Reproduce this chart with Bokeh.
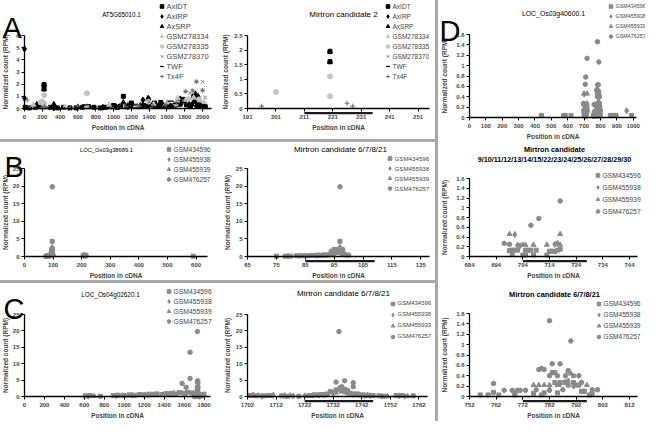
from bokeh.plotting import figure
from bokeh.models import (Range1d, FixedTicker, CustomJSTickFormatter, Legend, LegendItem,
                          Label, BoxAnnotation, ColumnDataSource, Div)
from bokeh.layouts import row, column
from bokeh.embed import file_html
from bokeh.resources import INLINE

# ---------------- data ----------------
# Panel A : AT5G65010.1 (also shown zoomed as Mirtron candidate 2)
a_series = ["AxIDT", "AxIRP", "AxSRP", "GSM278334", "GSM278335", "GSM278370", "TWF", "Tx4F"]
a_axidt_x = [8, 55, 120, 165, 220, 220, 290, 370, 440, 510, 580, 650, 720, 780, 850, 910, 960, 1000, 1040, 1080,
             1110, 1150, 1200, 1250, 1290, 1340, 1380, 1420, 1460, 1500, 1530, 1570, 1610, 1650, 1690, 1730, 1780,
             1820, 1860, 1900, 1940, 1970, 2000, 2030]
a_axidt_y = [0.1, 0.05, 0.1, 0.15, 1.95, 1.6, 0.1, 0.05, 0.1, 0.05, 0.05, 0.1, 0.15, 0.1, 0.05, 0.1, 0.15, 0.25, 0.1, 0.2,
             1.0, 0.15, 0.45, 0.2, 0.15, 0.25, 0.2, 0.3, 0.45, 0.2, 0.5, 0.25, 0.15, 0.2, 0.3, 0.35, 0.75,
             0.3, 0.2, 1.0, 0.6, 0.25, 0.3, 0.15]
a_axirp_x = [0, 0, 330, 600, 880, 1020, 1160, 1300, 1330, 1390, 1480, 1560, 1640, 1700, 1760, 1840, 1880, 1930, 1990]
a_axirp_y = [4.9, 0.85, 0.05, 0.1, 0.1, 0.2, 0.15, 0.25, 0.7, 0.85, 0.3, 0.25, 0.2, 0.3, 0.4, 0.45, 0.3, 0.2, 0.25]
a_axsrp_x = [140, 220, 220, 330, 1000, 1110, 1210, 1330, 1390, 1460, 1540, 1620, 1750, 1820, 1900, 1920, 1950]
a_axsrp_y = [0.35, 1.95, 1.6, 0.35, 0.2, 0.5, 0.2, 0.3, 0.8, 0.15, 0.2, 0.3, 0.8, 0.4, 0.55, 1.2, 1.0]
a_gsm278334_x = [100, 450, 700, 950, 1250, 1450, 1600, 1720, 1800, 1850, 1900, 1980, 2020]
a_gsm278334_y = [0.3, 0.1, 0.2, 0.3, 0.25, 0.35, 0.5, 0.85, 0.6, 0.8, 0.9, 0.6, 0.5]
a_gsm278335_x = [180, 201, 220, 220, 700, 1390, 1700, 1830, 1960]
a_gsm278335_y = [0.5, 0.57, 1.1, 0.42, 1.25, 0.55, 0.4, 0.75, 0.75]
a_gsm278370_x = [60, 260, 500, 820, 1060, 1280, 1400, 1560, 1680, 1780, 1810, 1860, 1890, 1930, 2000, 2000, 2030]
a_gsm278370_y = [0.1, 0.1, 0.05, 0.15, 0.2, 0.3, 0.55, 0.3, 0.5, 0.6, 1.4, 1.25, 1.45, 2.2, 2.2, 1.5, 0.9]
a_twf_x = [150, 420, 680, 760, 1060, 1180, 1230, 1350, 1420, 1520, 1640, 1700, 1790, 1870, 1950, 2010]
a_twf_y = [0.1, 0.05, 0.3, 0.1, 0.2, 0.45, 0.3, 0.3, 0.2, 0.35, 0.6, 0.4, 0.5, 0.3, 0.45, 0.3]
a_tx4f_x = [30, 196, 226, 228, 600, 980, 1140, 1290, 1440, 1590, 1710, 1810, 1890, 1930, 2000]
a_tx4f_y = [0.7, 0.08, 0.18, 0.08, 0.2, 0.1, 0.15, 0.2, 0.25, 0.3, 0.5, 1.4, 1.45, 2.2, 1.5]

# rice libraries used in B, C, D
gsm_series = ["GSM434596", "GSM455938", "GSM455939", "GSM476257"]

# Panel B : LOC_Os03g38689.1
b_434596_x = [75, 78, 80, 82, 84, 86, 88, 90, 92, 94, 95, 96, 97, 98, 205, 210, 215, 590]
b_434596_y = [0.1, 0.1, 0.1, 0.2, 0.2, 0.2, 0.3, 0.3, 0.4, 1.5, 2.0, 2.0, 4.3, 0.8, 0.3, 0.4, 0.3, 0.1]
b_455938_x = [79, 83, 89, 91, 93, 95, 96, 97, 99, 207, 212]
b_455938_y = [0.1, 0.2, 0.3, 0.4, 0.5, 1.0, 1.5, 2.6, 0.5, 0.3, 0.2]
b_455939_x = [85, 90, 94, 96, 97, 98, 209]
b_455939_y = [0.2, 0.3, 0.5, 1.0, 1.2, 0.7, 0.2]
b_476257_x = [87, 92, 95, 97, 98, 100, 214]
b_476257_y = [0.3, 0.4, 0.8, 19.8, 2.0, 0.4, 0.2]

# Panel C : LOC_Os04g02620.1
c_434596_x = [610, 660, 760, 890, 940, 1000, 1050, 1110, 1160, 1220, 1270, 1330, 1380, 1430, 1480, 1520, 1560,
              1600, 1640, 1680, 1703, 1705, 1708, 1710, 1714, 1716, 1720, 1724, 1726, 1728, 1730, 1731, 1732,
              1733, 1735, 1736, 1736, 1737, 1738, 1740, 1742, 1744, 1746, 1748, 1750, 1754, 1756, 1760, 1780, 1800]
c_434596_y = [0.2, 0.3, 0.1, 0.3, 0.4, 0.3, 0.5, 0.4, 0.6, 0.5, 0.7, 0.8, 0.6, 0.9, 1.0, 0.8, 1.2,
              1.0, 1.3, 1.1, 0.3, 0.2, 0.2, 0.3, 0.2, 0.1, 0.1, 0.3, 0.5, 0.6, 0.8, 1.5, 1.2,
              2.0, 2.0, 2.2, 1.5, 1.8, 1.0, 0.8, 0.5, 0.4, 0.3, 0.2, 0.1, 0.3, 0.3, 0.2, 0.5, 0.7]
c_455938_x = [640, 920, 1080, 1240, 1400, 1500, 1620, 1704, 1707, 1711, 1715, 1718, 1722, 1725, 1727, 1729, 1732,
              1734, 1737, 1739, 1741, 1743, 1745, 1749, 1755, 1757, 1790]
c_455938_y = [0.1, 0.2, 0.4, 0.6, 0.7, 0.9, 1.0, 0.5, 0.1, 0.4, 0.3, 0.2, 0.2, 0.4, 0.4, 0.5, 1.0,
              2.5, 1.2, 0.6, 0.6, 0.3, 0.2, 0.1, 0.2, 0.1, 0.4]
c_455939_x = [700, 980, 1140, 1300, 1460, 1540, 1706, 1709, 1717, 1723, 1728, 1733, 1735, 1737, 1740, 1744, 1751,
              1758, 1770]
c_455939_y = [0.1, 0.3, 0.5, 0.6, 0.8, 1.1, 0.3, 0.2, 0.3, 0.2, 0.4, 1.2, 1.5, 1.0, 0.5, 0.4, 0.1, 0.1, 0.3]
c_476257_x = [1200, 1580, 1620, 1660, 1660, 1733, 1734, 1735, 1736, 1739, 1739]
c_476257_y = [0.5, 4.0, 2.8, 13.5, 5.5, 4.4, 19.8, 3.0, 4.8, 4.2, 3.0]

# Panel D : LOC_Os03g40600.1
d_434596_x = [440, 575, 585, 620, 699, 700, 700, 701, 702, 704, 705, 705, 706, 707, 708, 709, 713, 714, 715, 716,
              717, 718, 756, 759, 761, 763, 769, 769, 776, 779, 780, 783, 784, 784, 785, 786, 788, 788, 789, 791,
              792, 793, 794, 795, 795, 797, 798, 860, 870, 885, 895, 990]
d_434596_y = [0.04, 0.04, 0.04, 0.04, 0.12, 0.13, 0.05, 0.13, 0.13, 0.03, 0.03, 0.13, 0.13, 0.13, 0.03, 0.13, 0.03,
              0.11, 0.11, 0.1, 0.13, 0.15, 0.03, 0.03, 0.08, 0.03, 0.03, 0.06, 0.06, 0.03, 0.07, 0.46, 0.46, 0.27,
              0.07, 0.27, 0.27, 0.28, 0.22, 0.27, 0.22, 0.22, 0.1, 0.1, 0.1, 0.03, 0.06, 0.04, 0.04, 0.04, 0.04, 0.04]
d_455938_x = [701, 702, 703, 716, 717, 782, 786, 789, 791, 960]
d_455938_y = [0.45, 0.23, 0.22, 0.25, 0.27, 0.13, 0.24, 0.3, 0.2, 0.13]
d_455939_x = [699, 704, 705, 708, 713, 718, 718, 776, 778, 780, 782, 785, 789, 790, 796]
d_455939_y = [0.46, 0.24, 0.24, 0.24, 0.24, 0.46, 0.24, 0.22, 0.22, 0.22, 0.22, 0.22, 0.48, 0.44, 0.22]
d_476257_x = [697, 699, 707, 710, 718, 761, 765, 768, 770, 771, 773, 777, 778, 779, 780, 782, 782, 782, 783, 785,
              786, 787, 788, 789, 790, 791, 793, 794, 798, 800]
d_476257_y = [0.27, 0.25, 0.64, 0.78, 1.14, 0.25, 0.12, 0.12, 0.12, 0.12, 0.12, 0.13, 0.52, 0.54, 0.52, 1.46, 0.4,
              0.12, 0.63, 0.4, 0.63, 0.13, 0.4, 0.5, 1.07, 0.4, 0.4, 0.27, 0.13, 0.13]

# axis ticks
a1_xticks = [0, 200, 400, 600, 800, 1000, 1200, 1400, 1600, 1800, 2000]
a1_yticks = [0, 1, 2, 3, 4, 5, 6]
a2_xticks = [191, 201, 211, 221, 231, 241, 251]
a2_yticks = [0, 0.5, 1, 1.5, 2, 2.5]
b1_xticks = [0, 100, 200, 300, 400, 500, 600]
b2_xticks = [65, 75, 85, 95, 105, 115, 125]
bc_yticks = [0, 5, 10, 15, 20, 25]
c1_xticks = [0, 200, 400, 600, 800, 1000, 1200, 1400, 1600, 1800]
c2_xticks = [1702, 1712, 1722, 1732, 1742, 1752, 1762]
d1_xticks = [0, 100, 200, 300, 400, 500, 600, 700, 800, 900, 1000]
d2_xticks = [684, 694, 704, 714, 724, 734, 744]
d3_xticks = [752, 762, 772, 782, 792, 802, 812]
d_yticks = [0, 0.2, 0.4, 0.6, 0.8, 1, 1.2, 1.4, 1.6]

# mirtron locations (cDNA positions)
mir_a_start, mir_a_end = 211, 235
mir_b_start, mir_b_end = 85, 109
mir_c_start, mir_c_end = 1722, 1746
mir_d2_start, mir_d2_end = 704, 728
mir_d3_start, mir_d3_end = 772, 796

# ---------------- styling / geometry ----------------
FONT = "Liberation Sans"
SX = 645 / 661
SY = 421 / 437


def sx(v):
    return int(round(v * SX))


def sy(v):
    return int(round(v * SY))


GRAY = "#8a8a8a"
a_styles = {
    "AxIDT": dict(marker="square", size=4, fill_color="black", line_color="black"),
    "AxIRP": dict(marker="diamond", size=6, fill_color="black", line_color="black"),
    "AxSRP": dict(marker="triangle", size=5, fill_color="black", line_color="black"),
    "GSM278334": dict(marker="triangle", size=5, fill_color="#c4c4c4", line_color="#c4c4c4"),
    "GSM278335": dict(marker="circle", size=5, fill_color="#c4c4c4", line_color="#c4c4c4"),
    "GSM278370": dict(marker="x", size=5, fill_color=None, line_color="#7a7a7a"),
    "TWF": dict(marker="dash", size=6, fill_color=None, line_color="black", line_width=1.3),
    "Tx4F": dict(marker="cross", size=5, fill_color=None, line_color="#6a6a6a"),
}
gsm_styles = {
    "GSM434596": dict(marker="square", size=4, fill_color=GRAY, line_color=GRAY),
    "GSM455938": dict(marker="diamond", size=6, fill_color=GRAY, line_color=GRAY),
    "GSM455939": dict(marker="triangle", size=5, fill_color=GRAY, line_color=GRAY),
    "GSM476257": dict(marker="circle", size=4.5, fill_color=GRAY, line_color=GRAY),
}


def src(x, y):
    return ColumnDataSource(dict(x=x, y=y))


a_sources = {
    "AxIDT": src(a_axidt_x, a_axidt_y), "AxIRP": src(a_axirp_x, a_axirp_y),
    "AxSRP": src(a_axsrp_x, a_axsrp_y), "GSM278334": src(a_gsm278334_x, a_gsm278334_y),
    "GSM278335": src(a_gsm278335_x, a_gsm278335_y), "GSM278370": src(a_gsm278370_x, a_gsm278370_y),
    "TWF": src(a_twf_x, a_twf_y), "Tx4F": src(a_tx4f_x, a_tx4f_y),
}
b_sources = {"GSM434596": src(b_434596_x, b_434596_y), "GSM455938": src(b_455938_x, b_455938_y),
             "GSM455939": src(b_455939_x, b_455939_y), "GSM476257": src(b_476257_x, b_476257_y)}
c_sources = {"GSM434596": src(c_434596_x, c_434596_y), "GSM455938": src(c_455938_x, c_455938_y),
             "GSM455939": src(c_455939_x, c_455939_y), "GSM476257": src(c_476257_x, c_476257_y)}
d_sources = {"GSM434596": src(d_434596_x, d_434596_y), "GSM455938": src(d_455938_x, d_455938_y),
             "GSM455939": src(d_455939_x, d_455939_y), "GSM476257": src(d_476257_x, d_476257_y)}


class Panel:
    """A figure whose frame fills the whole box; axes are drawn at fixed data locations."""

    def __init__(self, box, axes_box, xs, xe, ye, xticks, yticks, ylab_standoff, xlab_standoff=2):
        x0, y0, x1, y1 = box
        fx0, fy0, fx1, fy1 = axes_box
        self.x0, self.y0 = x0, y0
        W = sx(x1) - sx(x0)
        H = sy(y1) - sy(y0)
        self.W, self.H = W, H
        px0, px1 = sx(fx0) - sx(x0), sx(fx1) - sx(x0)
        pyb, pyt = sy(fy1) - sy(y0), sy(fy0) - sy(y0)
        kx = (px1 - px0) / (xe - xs)
        ky = (pyb - pyt) / ye
        self.axis_from_bottom = H - pyb
        p = figure(width=W, height=H, title=None,
                   x_range=Range1d(xs - px0 / kx, xs + (W - px0) / kx),
                   y_range=Range1d(-(H - pyb) / ky, pyb / ky),
                   output_backend="svg", toolbar_location=None,
                   min_border=0, min_border_left=0, min_border_right=0,
                   min_border_top=0, min_border_bottom=0)
        p.outline_line_color = None
        p.xgrid.visible = False
        p.ygrid.visible = False
        p.background_fill_color = "white"
        p.border_fill_color = "white"
        xa, ya = p.xaxis[0], p.yaxis[0]
        xa.fixed_location = 0
        ya.fixed_location = xs
        xa.bounds = (xs, xe)
        ya.bounds = (0, ye)
        for ax in (xa, ya):
            ax.axis_line_color = "black"
            ax.axis_line_width = 1.3
            ax.major_tick_line_color = "black"
            ax.major_tick_line_width = 1
            ax.major_tick_in = 0
            ax.major_tick_out = 3
            ax.minor_tick_line_color = None
            ax.major_label_text_font = FONT
            ax.major_label_text_font_size = "6px"
            ax.major_label_text_font_style = "bold"
            ax.axis_label_text_font = FONT
            ax.axis_label_text_font_size = "6.5px"
            ax.axis_label_text_font_style = "bold"
        xa.major_label_standoff = 3
        ya.major_label_standoff = 2
        xa.ticker = FixedTicker(ticks=xticks)
        ya.ticker = FixedTicker(ticks=yticks)
        ya.formatter = CustomJSTickFormatter(code="return String(Math.round(tick*100)/100);")
        xa.axis_label = "Position in cDNA"
        ya.axis_label = "Normalized count (RPM)"
        xa.axis_label_standoff = xlab_standoff
        ya.axis_label_standoff = ylab_standoff
        self.p = p

    def scr_x(self, xr):
        return sx(xr) - sx(self.x0)

    def scr_y(self, yr):
        return self.H - (sy(yr) - sy(self.y0))

    def text(self, xr, yr, text, size, align="center", baseline="middle", style="normal"):
        self.p.add_layout(Label(x=self.scr_x(xr), y=self.scr_y(yr), x_units="screen", y_units="screen",
                                text=text, text_font=FONT, text_font_size=size, text_align=align,
                                text_baseline=baseline, text_font_style=style, text_color="black"))

    def series(self, names, sources, styles, marker_x, first_y, stride, font_size):
        items = []
        for n in names:
            r = self.p.scatter(x="x", y="y", source=sources[n], **styles[n])
            items.append(LegendItem(label=n, renderers=[r]))
        S = int(round(stride * SY))
        gw = 9
        left = self.scr_x(marker_x) - gw / 2
        top_y = self.scr_y(first_y) + S / 2
        vy = top_y - len(names) * S
        leg = Legend(items=items, location=(left, vy), glyph_width=gw, glyph_height=S, label_height=S,
                     spacing=0, padding=0, margin=0, border_line_color=None, background_fill_alpha=0,
                     label_text_font=FONT, label_text_font_size=font_size, label_standoff=1)
        self.p.add_layout(leg)

    def bar(self, start, end):
        a = self.axis_from_bottom
        self.p.add_layout(BoxAnnotation(left=start, right=end, top=a - 3.5, bottom=a - 5.7,
                                        top_units="screen", bottom_units="screen",
                                        fill_color="#1a1a1a", fill_alpha=1, line_color=None))


LETTER = "29px"

# ---- A ----
A1 = Panel((0, 0, 226, 144), (25, 36, 216, 112), 0, 2100, 6, a1_xticks, a1_yticks, 4)
A1.series(a_series, a_sources, a_styles, 165, 6, 10.6, "7.5px")
A1.text(124, 15, "AT5G65010.1", "6.3px")
A1.text(2, 28, "A", LETTER, align="left", baseline="alphabetic")

A2 = Panel((226, 0, 446, 144), (253, 36, 440, 112), 191, 255, 2.5, a2_xticks, a2_yticks, 2)
A2.series(a_series, a_sources, a_styles, 397, 6, 10.6, "6.5px")
A2.text(352, 15, "Mirtron candidate 2", "8px")
A2.bar(mir_a_start, mir_a_end)

# ---- B ----
B1 = Panel((0, 147, 226, 291), (25, 174, 212, 266), 0, 640, 25, b1_xticks, bc_yticks, 1)
B1.series(gsm_series, b_sources, gsm_styles, 172, 155, 10.6, "6.6px")
B1.text(109, 155, "LOC_Os03g38689.1", "5.8px")
B1.text(4, 172, "B", LETTER, align="left", baseline="alphabetic")

B2 = Panel((226, 147, 446, 291), (253, 174, 440, 266), 65, 128, 25, b2_xticks, bc_yticks, 2)
B2.series(gsm_series, b_sources, gsm_styles, 399, 164, 10.6, "6.2px")
B2.text(348, 155, "Mirtron candidate 6/7/8/21", "8px")
B2.bar(mir_b_start, mir_b_end)

# ---- C ----
C1 = Panel((0, 294, 226, 437), (25, 326, 215, 411), 0, 1865, 25, c1_xticks, bc_yticks, 1)
C1.series(gsm_series, c_sources, gsm_styles, 172, 302, 10.6, "6.8px")
C1.text(113, 305, "LOC_Os04g02620.1", "6.4px")
C1.text(3, 320, "C", LETTER, align="left", baseline="alphabetic")

C2 = Panel((226, 294, 446, 437), (253, 326, 438, 411), 1702, 1765, 25, c2_xticks, bc_yticks, 2)
C2.series(gsm_series, c_sources, gsm_styles, 402, 315, 11.7, "6px")
C2.text(351, 304, "Mirtron candidate 6/7/8/21", "8px")
C2.bar(mir_c_start, mir_c_end)

# ---- D ----
D1 = Panel((449, 0, 661, 145), (481, 35, 652, 121), 0, 1020, 1.6, d1_xticks, d_yticks, 5)
D1.series(gsm_series, d_sources, gsm_styles, 625, 6, 10, "5.4px")
D1.text(567, 14, "LOC_Os03g40600.1", "6.9px")
D1.text(450, 31, "D", LETTER, align="left", baseline="alphabetic")

D2 = Panel((449, 145, 661, 292), (481, 185, 653, 266), 684, 747, 1.6, d2_xticks, d_yticks, 5)
D2.series(gsm_series, d_sources, gsm_styles, 612, 182, 12.5, "6.8px")
D2.text(568, 155, "Mirtron candidate", "7.3px", style="bold")
D2.text(568, 165, "9/10/11/12/13/14/15/22/23/24/25/26/27/28/29/30", "7.2px", style="bold")
D2.bar(mir_d2_start, mir_d2_end)

D3 = Panel((449, 292, 661, 437), (481, 325, 653, 411), 752, 815, 1.6, d3_xticks, d_yticks, 5)
D3.series(gsm_series, d_sources, gsm_styles, 613, 314, 11.5, "6.6px")
D3.text(568, 305, "Mirtron candidate 6/7/8/21", "7.4px", style="bold")
D3.bar(mir_d3_start, mir_d3_end)

SEP = "#a8a8a8"


def hsep():
    return Div(text="", width=sx(446), height=sy(147) - sy(144), margin=0,
               styles={"background-color": SEP})


vsep = Div(text="", width=sx(449) - sx(446), height=sy(437), margin=0, styles={"background-color": SEP})

left_col = column(row(A1.p, A2.p), hsep(), row(B1.p, B2.p), hsep(), row(C1.p, C2.p))
right_col = column(D1.p, D2.p, D3.p)
root = row(left_col, vsep, right_col)

open("out.html", "w").write(file_html(root, INLINE))
